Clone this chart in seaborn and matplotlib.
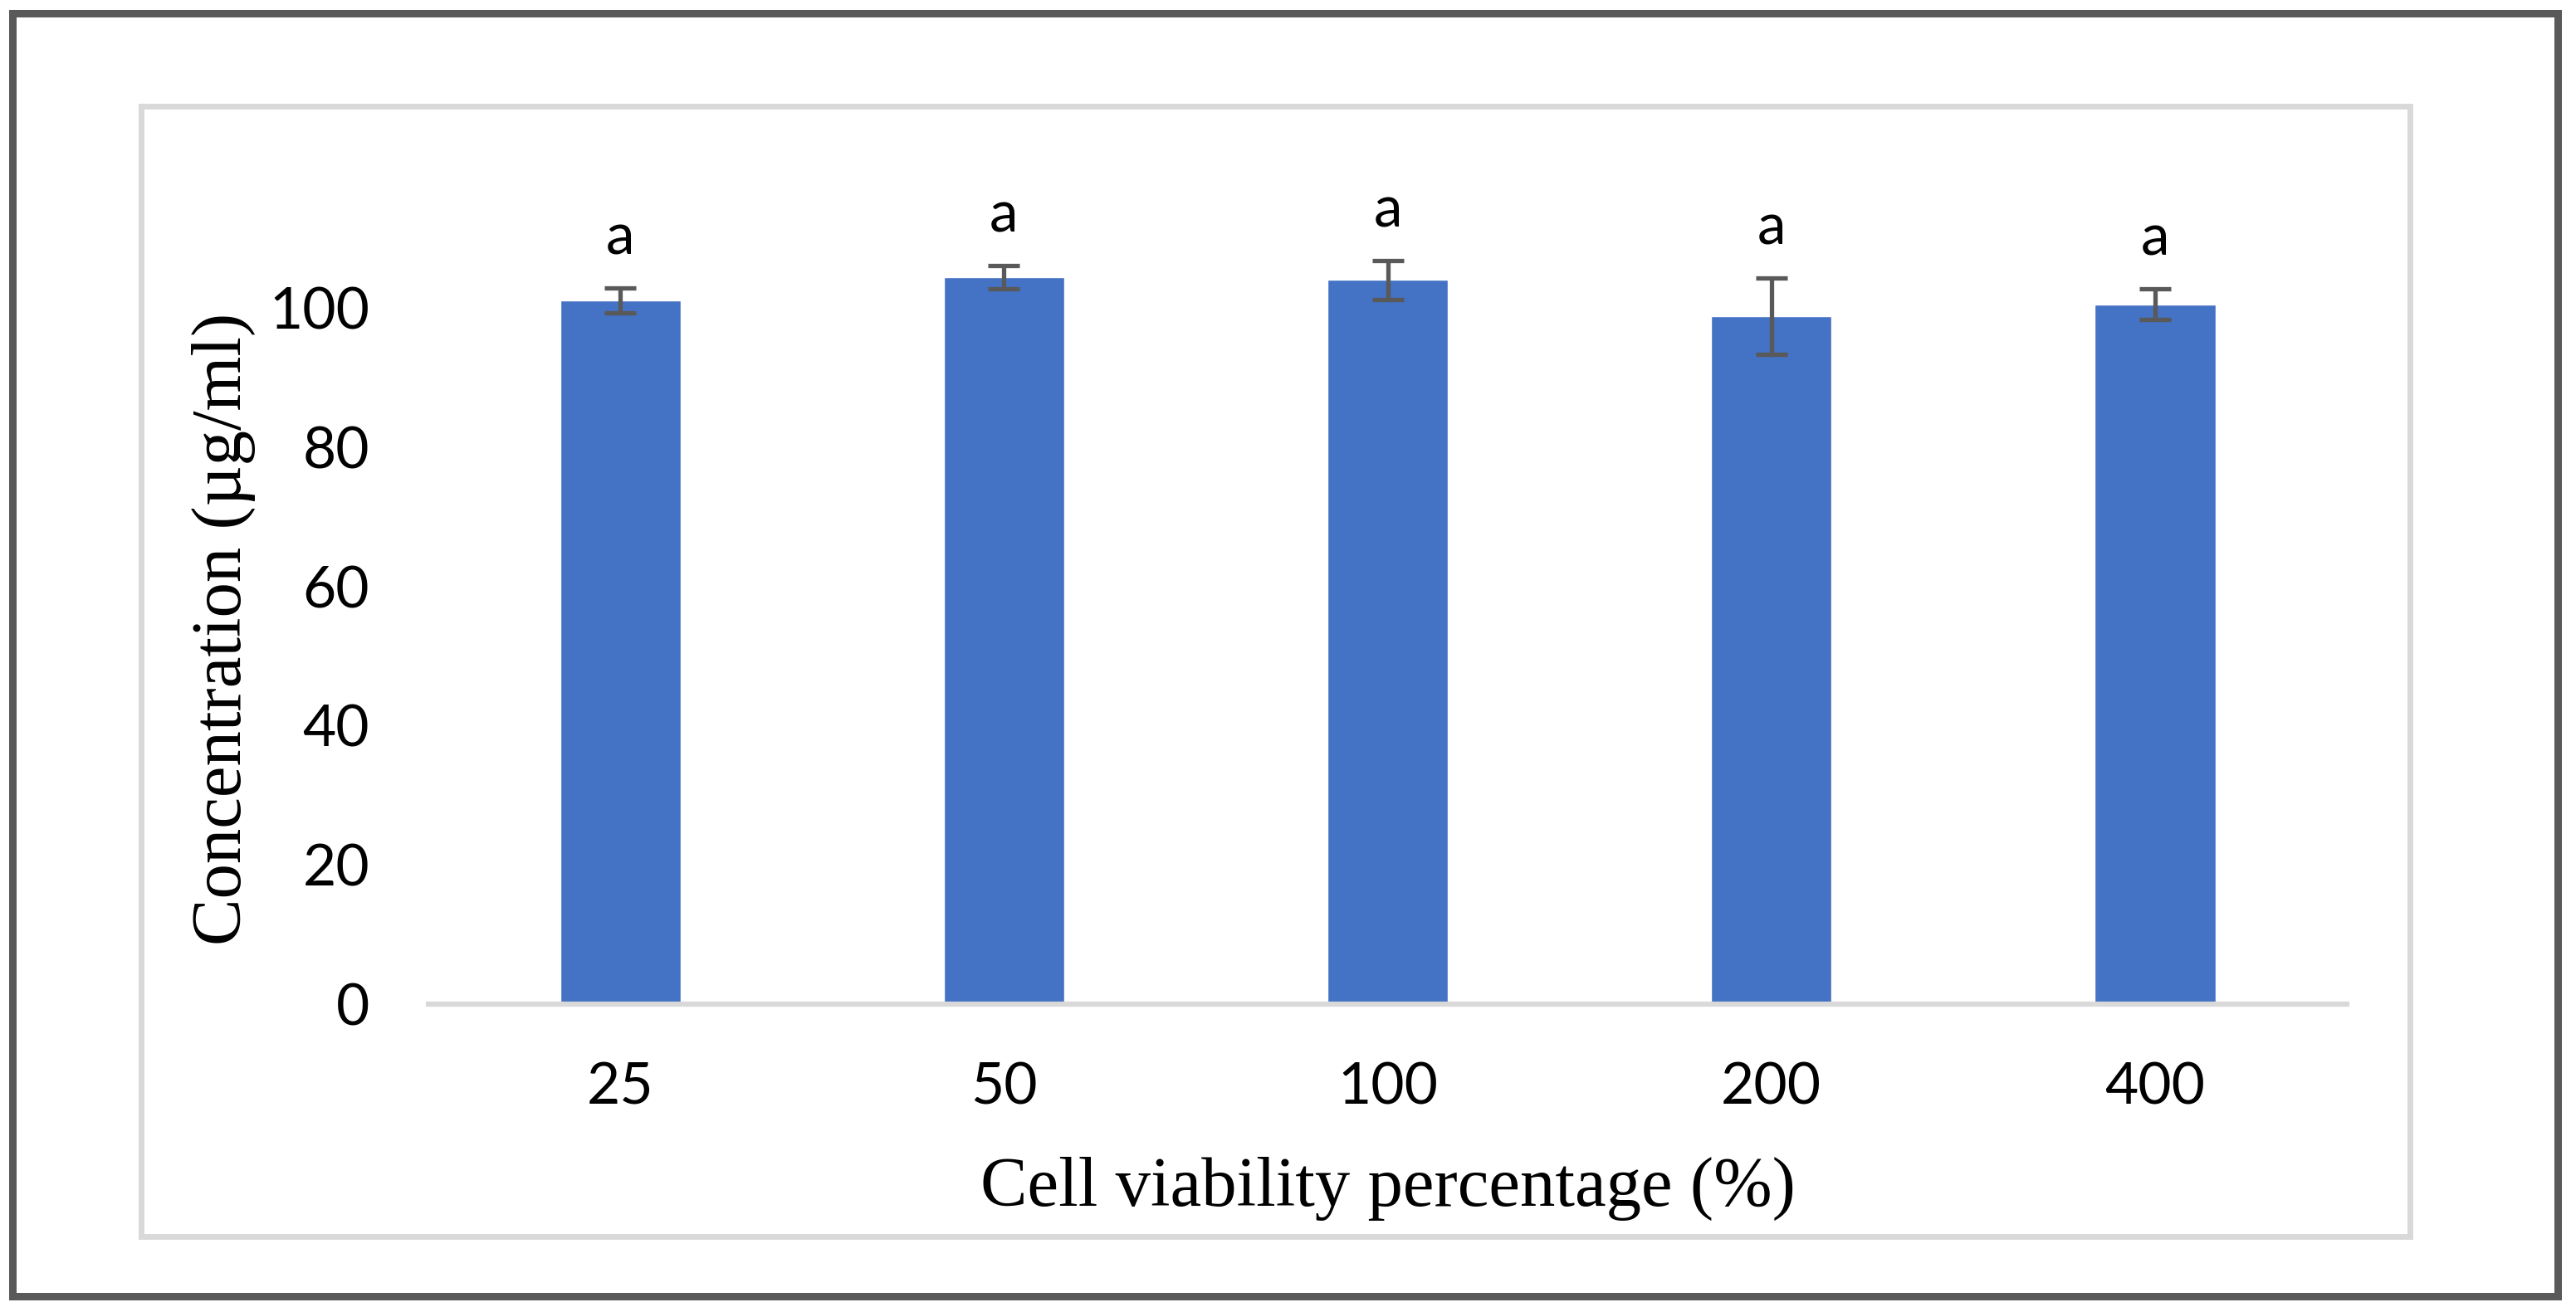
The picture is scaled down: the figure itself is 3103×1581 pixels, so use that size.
import numpy as np
import pandas as pd
import matplotlib.pyplot as plt
import seaborn as sns
from matplotlib.patches import Rectangle

# values
concentrations = ["25", "50", "100", "200", "400"]
viability = [101.1, 104.4, 104.0, 98.8, 100.5]
sd = [1.8, 1.7, 2.8, 5.5, 2.2]
letters = ["a", "a", "a", "a", "a"]

df = pd.DataFrame({"conc": concentrations, "value": viability})

sns.set_theme(style="white")
plt.rcParams["font.family"] = ["Lato", "DejaVu Sans"]
plt.rcParams["text.color"] = "black"

BAR = "#4472C4"
ERR = "#595959"
LIGHT = "#D9D9D9"

fig = plt.figure(figsize=(31.03, 15.81), dpi=100)
ax = fig.add_axes([0.1663, 0.2347, 0.7448, 0.6103])

sns.barplot(data=df, x="conc", y="value", color=BAR, width=0.314,
            errorbar=None, saturation=1, ax=ax)
ax.errorbar(np.arange(len(viability)), viability, yerr=sd, fmt="none",
            ecolor=ERR, elinewidth=3.8, capsize=14, capthick=3.8, zorder=3)

for i, (v, e, t) in enumerate(zip(viability, sd, letters)):
    ax.text(i, v + e + 4.8, t, ha="center", va="baseline",
            fontsize=50, color="black")

ax.set_xlim(-0.5, len(concentrations) - 0.5)
ax.set_ylim(0, 115)
ax.set_yticks([0, 20, 40, 60, 80, 100])
ax.tick_params(axis="both", length=0, labelsize=50, labelcolor="black")
ax.tick_params(axis="y", pad=51)
ax.tick_params(axis="x", pad=50)

for s in ["top", "right", "left"]:
    ax.spines[s].set_visible(False)
ax.spines["bottom"].set_color(LIGHT)
ax.spines["bottom"].set_linewidth(4.5)

serif = ["Liberation Serif", "DejaVu Serif"]
ax.set_xlabel("Cell viability percentage (%)", fontsize=61, family=serif,
              va="baseline", color="black")
ax.set_ylabel("Concentration (µg/ml)", fontsize=61, family=serif,
              va="baseline", color="black")
ax.xaxis.set_label_coords(0.5, -0.2518)
ax.yaxis.set_label_coords(-0.0978, 0.469)

# chart area border and outer frame
fig.add_artist(Rectangle((170 / 3103, 1 - 1490 / 1581), (2903 - 170) / 3103,
                         (1490 - 128) / 1581, transform=fig.transFigure,
                         fill=False, edgecolor=LIGHT, linewidth=5))
fig.add_artist(Rectangle((15 / 3103, 1 - 1562 / 1581), (3081 - 15) / 3103,
                         (1562 - 16) / 1581, transform=fig.transFigure,
                         fill=False, edgecolor=ERR, linewidth=6.5))

fig.savefig("out.png", dpi=100, facecolor="white")
